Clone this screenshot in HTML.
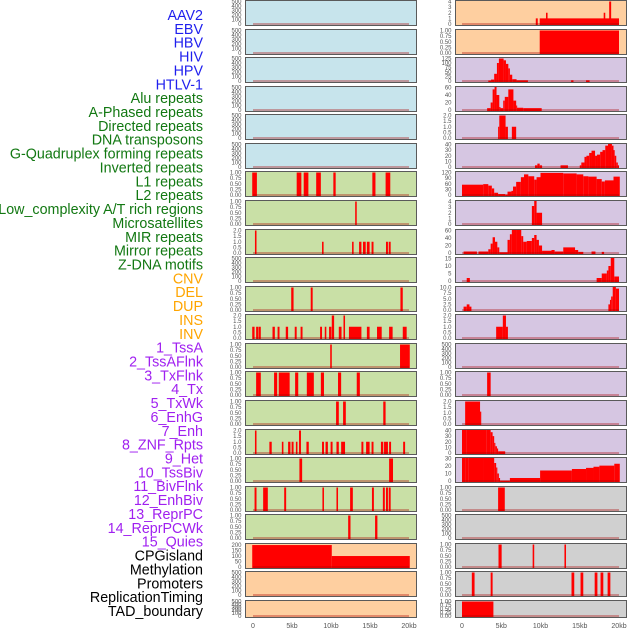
<!DOCTYPE html>
<html><head><meta charset="utf-8"><style>
html,body{margin:0;padding:0;background:#fff;width:630px;height:630px;overflow:hidden}
svg{display:block;font-family:"Liberation Sans",sans-serif}
</style></head><body>
<svg id="c" width="630" height="630" xmlns="http://www.w3.org/2000/svg"></svg>
<script>
const trackLabels=["AAV2","EBV","HBV","HIV","HPV","HTLV-1","Alu repeats","A-Phased repeats","Directed repeats","DNA transposons","G-Quadruplex forming repeats","Inverted repeats","L1 repeats","L2 repeats","Low_complexity A/T rich regions","Microsatellites","MIR repeats","Mirror repeats","Z-DNA motifs","CNV","DEL","DUP","INS","INV","1_TssA","2_TssAFlnk","3_TxFlnk","4_Tx","5_TxWk","6_EnhG","7_Enh","8_ZNF_Rpts","9_Het","10_TssBiv","11_BivFlnk","12_EnhBiv","13_ReprPC","14_ReprPCWk","15_Quies","CPGisland","Methylation","Promoters","ReplicationTiming","TAD_boundary"];
const labelGroups=[6,13,5,15,5];
const xTickLabels=["0","5kb","10kb","15kb","20kb"];
const xTickValues=[0,5,10,15,20];
const leftYmax=[0,0,0,0,0,0,1,1,2,0,1,2,1,1,1,2,1,1,1,200,0,0];
const rightYmax=[4,1,125,60,2,40,120,4,60,15,10,2,0,1,2,40,30,1,0,1,1,1];
const leftBg=["b","b","b","b","b","b","g","g","g","g","g","g","g","g","g","g","g","g","g","o","o","o"];
const rightBg=["o","o","p","p","p","p","p","p","p","p","p","p","p","p","p","p","p","y","y","y","y","y"];
const L6=[[-0.1,0.5,1],[5.6,6.2,1],[6.5,7.1,1],[8.1,8.7,1],[10.3,10.6,1],[15.3,15.7,1],[17.0,17.6,1]];
const L7=[[13.1,13.3,1]];
const L8=[[0.25,0.45,2],[8.85,9.05,1],[12.7,12.9,1],[13.6,13.9,1],[14.1,14.45,1],[14.6,14.95,1],[15.2,15.45,1],[17.05,17.3,1],[17.4,17.65,1]];
const L10=[[4.9,5.2,1],[7.4,7.65,1],[18.9,19.2,1]];
const L11=[[-0.1,0.2,1],[0.4,0.65,1],[0.7,1.0,1],[2.5,2.8,1],[3.15,3.4,1],[4.2,4.5,1],[5.35,5.6,1],[6.1,6.35,1],[8.6,8.85,1],[9.2,9.4,1],[9.75,10.05,1],[10.1,10.4,2],[11.0,11.35,1],[11.6,11.8,2],[12.3,13.9,1],[14.6,14.95,1],[15.9,16.5,1],[17.45,17.9,1],[19.2,19.7,1]];
const L12=[[9.9,10.1,1],[18.85,20.1,1]];
const L13=[[0.4,1.0,1],[2.7,3.1,1],[3.3,4.7,1],[5.4,5.8,1],[6.9,7.8,1],[8.7,9.1,1],[10.9,11.3,1],[13.3,13.7,1]];
const L14=[[10.65,11.0,1],[11.55,11.9,1],[16.7,17.0,1]];
const L15=[[0.25,0.45,2],[2.1,2.4,1],[3.7,3.9,1],[4.5,4.8,1],[4.95,5.2,1],[5.5,5.7,1],[5.9,6.15,2],[6.85,7.15,1],[8.85,9.1,1],[9.3,9.6,1],[9.95,10.2,1],[10.7,11.0,1],[11.3,11.8,1],[13.9,14.15,1],[14.5,14.95,1],[15.2,15.45,1],[16.4,16.7,1],[16.8,17.3,1],[17.45,17.7,1],[19.25,19.5,1]];
const L16=[[5.95,6.3,1],[17.45,17.95,1]];
const L17=[[0.2,0.45,1],[1.3,1.9,1],[4.0,4.25,1],[8.9,9.1,1],[10.7,10.9,1],[12.45,12.8,1],[15.25,15.5,1],[16.65,16.9,1],[17.05,17.3,1],[17.4,17.65,1]];
const L18=[[12.2,12.5,1],[15.65,15.95,1]];
const L19=[[-0.1,10.1,200],[10.1,20.1,100]];
const R0=[[9.4,9.65,1],[9.9,20.0,1],[10.7,10.9,2],[18.05,18.25,2],[18.75,19.0,4]];
const R1=[[9.9,20.0,1]];
const R2=[[3.35,3.7,3],[3.7,4.1,8],[4.1,4.45,40],[4.45,4.7,100],[4.7,5.3,125],[5.3,5.6,115],[5.6,5.9,95],[5.9,6.1,70],[6.1,6.4,35],[6.4,6.95,10],[6.95,8.4,4],[13.9,14.2,4],[15.8,16.25,4]];
const R3=[[3.2,3.65,5],[3.65,3.9,20],[3.9,4.15,55],[4.15,4.4,62],[4.4,4.75,40],[4.75,4.9,8],[4.9,5.25,5],[5.25,5.45,25],[5.45,5.9,35],[5.9,6.55,55],[6.55,6.9,25],[6.9,7.0,12],[7.0,7.8,6],[7.8,10.15,5]];
const R4=[[4.6,4.75,1],[4.75,5.55,2],[5.55,5.85,1],[6.35,6.9,1]];
const R5=[[9.3,9.6,3],[9.6,9.9,6],[9.9,10.2,3],[12.55,13.5,3],[15.0,15.2,3],[15.2,15.6,8],[15.6,15.85,18],[15.85,16.2,20],[16.2,16.5,25],[16.5,16.95,29],[16.95,17.2,20],[17.2,17.6,22],[17.6,17.9,27],[17.9,18.25,30],[18.25,18.6,38],[18.6,19.1,44],[19.1,19.3,38],[19.3,19.45,30],[19.45,19.65,20],[19.65,19.85,8],[19.85,20.0,3]];
const R6=[[0,2.7,55],[2.7,3.35,58],[3.35,3.8,50],[3.8,4.1,35],[4.1,4.6,12],[4.6,5.5,5],[5.5,5.8,2],[5.8,6.3,18],[6.3,6.5,22],[6.5,6.9,45],[6.9,7.5,70],[7.5,7.9,95],[7.9,8.45,110],[8.45,9.2,100],[9.2,9.5,82],[9.5,10.0,95],[10.0,12.9,118],[12.9,14.6,115],[14.6,15.45,110],[15.45,16.1,100],[16.1,17.15,98],[17.15,17.8,85],[17.8,18.2,72],[18.2,19.3,78],[19.3,20.1,98]];
const R7=[[8.9,9.2,3.2],[9.2,9.5,4.5],[9.5,10.2,2]];
const R8=[[0.2,1.9,4],[2.1,3.35,4],[3.35,3.65,10],[3.65,3.9,25],[3.9,4.2,42],[4.2,4.5,30],[4.5,4.75,15],[4.75,5.8,2],[5.8,6.1,35],[6.1,6.35,50],[6.35,6.95,70],[6.95,7.55,65],[7.55,7.8,45],[7.8,8.25,30],[8.25,8.9,32],[8.9,9.2,40],[9.2,9.5,48],[9.5,9.8,35],[9.8,10.2,20],[10.2,11.4,6],[11.4,11.8,8],[11.8,12.9,4],[12.9,14.4,15],[14.4,14.8,8],[14.8,15.45,3],[16.5,17.0,4],[17.8,18.1,3]];
const R9=[[0.6,1.0,2],[17.15,17.8,2],[17.8,18.45,5],[18.45,18.65,7],[18.65,18.95,10],[18.95,19.4,16],[19.4,20.0,3]];
const R10=[[0.2,0.6,1.5],[0.6,0.95,2.5],[0.95,1.2,1.5],[18.65,18.85,2.5],[18.85,19.0,4.5],[19.0,19.2,6],[19.2,19.6,10.5],[19.6,20.0,9.5]];
const R11=[[4.35,5.2,1],[5.2,5.6,2],[5.6,5.85,1]];
const R13=[[3.2,3.65,1]];
const R14=[[0.4,2.3,2],[2.3,2.45,1.1]];
const R15=[[0,0.6,46],[0.6,3.15,45],[3.15,3.65,43],[3.65,3.9,37],[3.9,4.1,30],[4.1,4.25,18],[4.25,4.45,12],[4.45,4.6,8],[4.6,5.5,3]];
const R16=[[0,0.4,37],[0.4,0.8,35],[0.8,2.8,36],[2.8,4.1,35],[4.1,4.35,24],[4.35,4.5,18],[4.5,4.7,10],[4.7,4.85,4],[4.85,6.1,0.5],[6.1,9.95,4],[9.95,14,14],[14,15.8,16],[15.8,16.75,17.5],[16.75,17.5,19],[17.5,19.4,20.5],[19.4,20.1,23]];
const R17=[[4.6,5.45,1]];
const R19=[[4.65,5.05,1],[9.0,9.2,1],[13.05,13.25,1]];
const R20=[[1.25,1.6,1],[3.65,3.9,1],[13.95,14.3,1],[15.1,15.45,1],[16.9,17.25,1],[17.65,18.0,1],[18.55,18.9,1]];
const R21=[[0,4.0,1]];
const leftSegs=[[],[],[],[],[],[],L6,L7,L8,[],L10,L11,L12,L13,L14,L15,L16,L17,L18,L19,[],[]];
const rightSegs=[R0,R1,R2,R3,R4,R5,R6,R7,R8,R9,R10,R11,[],R13,R14,R15,R16,R17,[],R19,R20,R21];

const NS="http://www.w3.org/2000/svg";
const svg=document.getElementById('c');
const bgCol={b:"#c7e4ec",g:"#c9e0a6",o:"#fecfa0",p:"#d6c6e2",y:"#d0d0d0"};
const labelCols=["#1f1fee","#127812","#ffa500","#a020f0","#000000"];
function mk(t,a){const e=document.createElementNS(NS,t);for(const k in a)e.setAttribute(k,a[k]);svg.appendChild(e);return e;}
function xScale(side,kb){return side==0?253+kb*(409-253)/20:462+kb*(619-462)/20;}
function tickList(ym){
  if(ym==0)return [[0,"0"],[100,"100"],[200,"200"],[300,"300"],[400,"400"],[500,"500"]];
  if(ym==1)return [[0,"0.00"],[0.25,"0.25"],[0.5,"0.50"],[0.75,"0.75"],[1,"1.00"]];
  if(ym==2)return [[0,"0.0"],[0.5,"0.5"],[1,"1.0"],[1.5,"1.5"],[2,"2.0"]];
  if(ym==4)return [[0,"0"],[1,"1"],[2,"2"],[3,"3"],[4,"4"]];
  if(ym==10)return [[0,"0.0"],[2.5,"2.5"],[5,"5.0"],[7.5,"7.5"],[10,"10.0"]];
  if(ym==15)return [[0,"0"],[5,"5"],[10,"10"],[15,"15"]];
  if(ym==30)return [[0,"0"],[10,"10"],[20,"20"],[30,"30"]];
  if(ym==40)return [[0,"0"],[10,"10"],[20,"20"],[30,"30"],[40,"40"]];
  if(ym==60)return [[0,"0"],[20,"20"],[40,"40"],[60,"60"]];
  if(ym==120)return [[0,"0"],[30,"30"],[60,"60"],[90,"90"],[120,"120"]];
  if(ym==125)return [[0,"0"],[25,"25"],[50,"50"],[75,"75"],[100,"100"],[125,"125"]];
  if(ym==200)return [[0,"0"],[50,"50"],[100,"100"],[150,"150"],[200,"200"]];
  return [];
}
function drawPanel(side,i){
  const top=Math.round(i*28.57)+0.5;
  const h=(i==21)?17:25;
  const px=side==0?245.5:455.5, w=171;
  const ym=(side==0?leftYmax:rightYmax)[i];
  const scaleMax=ym==0?500:(ym==200?205:ym*1.0);
  const yS=v=>top+h-1.5-v/scaleMax*(h-2.5);
  const bg=mk('rect',{x:px,y:top,width:w,height:h,fill:bgCol[(side==0?leftBg:rightBg)[i]],stroke:"#5a5a5a","stroke-width":1});
  
  
  const segs=(side==0?leftSegs:rightSegs)[i];
  for(const s of segs){
    const x1=Math.max(xScale(side,s[0]),px+0.5),x2=Math.min(xScale(side,s[1]),px+w-0.5);
    const y1=Math.max(yS(s[2]),top+0.5);
    const r=mk('rect',{x:x1,y:y1,width:Math.max(x2-x1,1),height:top+h-0.5-y1,fill:"#ff0000"});
    
    
  }
  const bl=mk('line',{x1:xScale(side,0),x2:xScale(side,20),y1:top+h-1.5,y2:top+h-1.5,stroke:"rgba(170,0,0,0.45)","stroke-width":1.5});
  
  
  for(const t of tickList(ym)){
    const tx=mk('text',{x:px-4,y:yS(t[0])+2,"font-size":"6","text-anchor":"end",fill:"#555"});
    tx.textContent=t[1];
    
    
  }
}
for(let i=0;i<22;i++){drawPanel(0,i);drawPanel(1,i);}
for(let s=0;s<2;s++){
  for(let k=0;k<xTickValues.length;k++){
    const t=mk('text',{x:xScale(s,xTickValues[k]),y:628,"font-size":"7","text-anchor":"middle",fill:"#555"});
    t.textContent=xTickLabels[k];
    
    
  }
}
let idx=0;
labelGroups.forEach((n,g)=>{
  for(let j=0;j<n;j++){
    const t=mk('text',{x:203,y:15+idx*13.86+5,"font-size":"14.3","text-anchor":"end",fill:labelCols[g]});
    t.textContent=trackLabels[idx];
    
    
    idx++;
  }
});
</script>
</body></html>
